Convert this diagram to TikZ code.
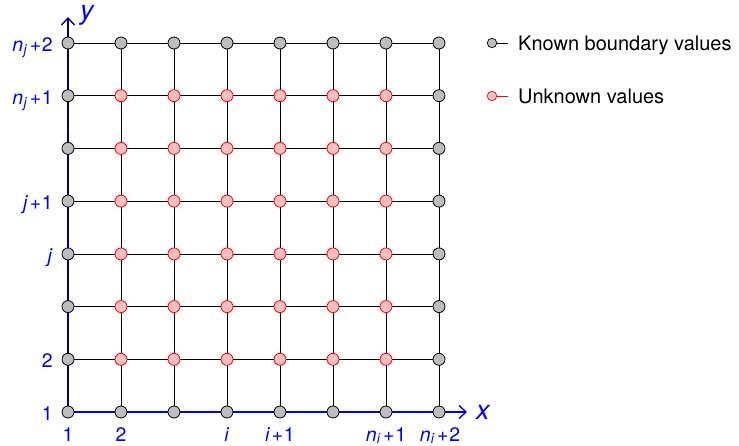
\documentclass[tikz,border=0pt]{standalone}
\usepackage{fontspec}
\setmainfont{TeX Gyre Heros}
\usetikzlibrary{arrows.meta}
\definecolor{knownfill}{gray}{0.74}
\definecolor{unkfill}{RGB}{255,192,192}
\definecolor{axisblue}{RGB}{0,0,255}
\definecolor{axisnavy}{RGB}{0,0,130}
\newcommand{\nsub}[2]{\textit{n}\kern0.3pt\smash{\raisebox{-0.15em}{\fontsize{14}{16}\selectfont\textit{#1}}}\kern2.5pt+\kern0.8pt#2}
\newcommand{\vplus}[2]{\textit{#1}\kern1.5pt+\kern0.8pt#2}
\tikzset{
  known/.style={circle,draw=black,fill=knownfill,minimum size=12pt,inner sep=0pt,line width=0.8pt},
  unknown/.style={circle,draw=red,fill=unkfill,minimum size=12pt,inner sep=0pt,line width=0.8pt},
  legknown/.style={circle,draw=black,fill=knownfill,minimum size=9.5pt,inner sep=0pt,line width=0.7pt},
  legunknown/.style={circle,draw=red,fill=unkfill,minimum size=9.5pt,inner sep=0pt,line width=0.7pt},
  gridline/.style={black,line width=0.75pt},
  xaxisline/.style={axisblue,line width=1.6pt,-{Straight Barb[length=7pt,width=13pt,line width=1.4pt]}},
  yaxisline/.style={axisnavy,line width=1.6pt,-{Straight Barb[length=7pt,width=13pt,line width=1.4pt]}},
  lab/.style={text=axisblue,font=\fontsize{19.5}{22}\selectfont,inner sep=0pt},
  xlab/.style={lab,anchor=base,text height=13pt,text depth=1pt},
  axlab/.style={text=axisblue,font=\fontsize{27}{30}\selectfont\itshape,inner sep=0pt,text height=14pt,text depth=5pt},
  legtext/.style={text=black,font=\fontsize{20}{24}\selectfont,inner sep=0pt,anchor=base west},
}
\begin{document}
\begin{tikzpicture}[x=1pt,y=-1pt]
\useasboundingbox (0,0) rectangle (739,446);
% grid coordinates
\foreach \c [count=\i] in {68,121,174,227,280,333,386,439} {
  \foreach \r [count=\j] in {412,359.3,306.6,253.9,201.1,148.4,95.7,43} {
    \coordinate (c-\i-\j) at (\c,\r);
  }
}
% grid lines
\foreach \k in {2,...,8} {
  \draw[gridline] (c-\k-1) -- (c-\k-8);
  \draw[gridline] (c-1-\k) -- (c-8-\k);
}
% axes
\coordinate (xend) at (467,412);
\coordinate (yend) at (68,17);
\draw[xaxisline] (c-1-1) -- (xend);
\draw[yaxisline] (c-1-1) -- (yend);
% nodes
\foreach \i in {1,...,8} {
  \foreach \j in {1,...,8} {
    \pgfmathtruncatemacro\bnd{(\i==1)||(\i==8)||(\j==1)||(\j==8)}
    \ifnum\bnd=1
      \node[known] (n-\i-\j) at (c-\i-\j) {};
    \else
      \node[unknown] (n-\i-\j) at (c-\i-\j) {};
    \fi
  }
}
% axis names
\node[axlab,anchor=base west] (xname) at (476,419) {x};
\node[axlab,anchor=base west] (yname) at (80,20) {y};
% x labels
\node[xlab] (xl1) at (68,441) {1};
\node[xlab] (xl2) at (121,441) {2};
\node[xlab] (xli) at (227,441) {\textit{i}};
\node[xlab] (xli1) at (280,441) {\vplus{i}{1}};
\node[xlab] (xlni1) at (386,441) {\nsub{i}{1}};
\node[xlab] (xlni2) at (440,441) {\nsub{i}{2}};
% y labels
\node[lab,anchor=base east] (yl1) at (53,420.5) {1};
\node[lab,anchor=base east] (yl2) at (53,367.8) {2};
\node[lab,anchor=base east] (ylj) at (53,262.4) {\textit{j}};
\node[lab,anchor=base east] (ylj1) at (53,209.6) {\vplus{j}{1}};
\node[lab,anchor=base east] (ylnj1) at (53,104.2) {\nsub{j}{1}};
\node[lab,anchor=base east] (ylnj2) at (53,51.5) {\nsub{j}{2}};
% legend
\coordinate (lk) at (492,43);
\coordinate (lke) at (508,43);
\draw[black,line width=0.8pt] (lk) -- (lke);
\node[legknown] (lkm) at (lk) {};
\node[legtext] (lkt) at (518,50.5) {Known boundary values};
\coordinate (lu) at (492,96);
\coordinate (lue) at (508,96);
\draw[red,line width=0.8pt] (lu) -- (lue);
\node[legunknown] (lum) at (lu) {};
\node[legtext] (lut) at (518,103.5) {Unknown values};
\end{tikzpicture}
\end{document}
